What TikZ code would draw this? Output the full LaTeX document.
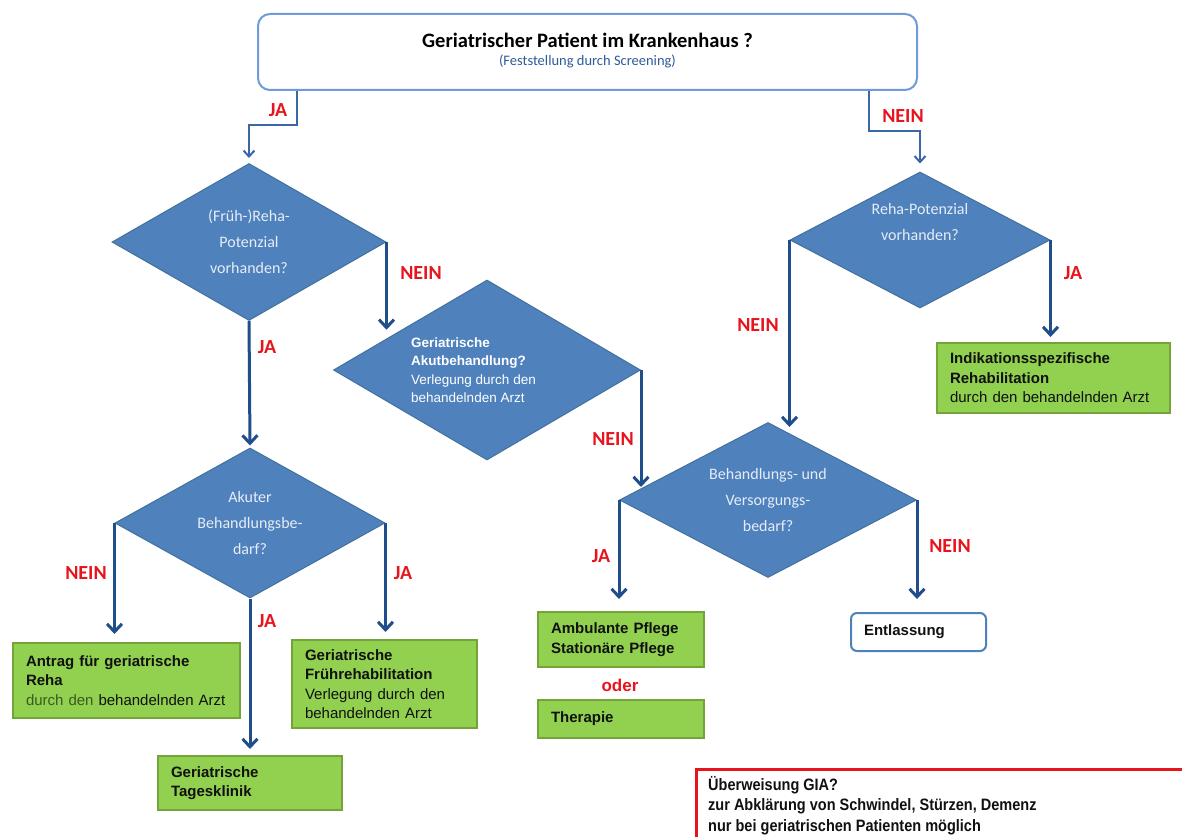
\documentclass[tikz,border=0pt]{standalone}
\usepackage{fontspec}
\setmainfont{Carlito}
\newfontfamily\arial{Liberation Sans}
\newfontfamily\narrow[FakeStretch=0.88]{Liberation Sans}
\usetikzlibrary{shapes.geometric,arrows.meta,calc}
\definecolor{topborder}{HTML}{6F9BD8}
\definecolor{subtext}{HTML}{2E5C9A}
\definecolor{diafill}{HTML}{4F81BD}
\definecolor{diaborder}{HTML}{41719C}
\definecolor{diatext}{HTML}{E6EDF7}
\definecolor{arrblue}{HTML}{1F4E8A}
\definecolor{thinblue}{HTML}{3A67A8}
\definecolor{lblred}{HTML}{E8141C}
\definecolor{gfill}{HTML}{92D050}
\definecolor{gborder}{HTML}{74A33A}
\definecolor{durchgreen}{HTML}{3B5A22}
\definecolor{boxtext}{HTML}{111111}
\tikzset{
  dia/.style={diamond, draw=diaborder, fill=diafill, line width=1pt, inner sep=0pt, aspect=1.7,
    text=diatext, align=center, font=\fontsize{16}{26}\selectfont},
  arr/.style={draw=arrblue, line width=3pt, -{Straight Barb[length=8pt,width=15pt]}},
  thinarr/.style={draw=thinblue, line width=2pt, -{Straight Barb[length=6pt,width=11pt]}},
  lab/.style={text=lblred, font=\bfseries\fontsize{20}{20}\selectfont, inner sep=0pt},
  gbox/.style={rectangle, fill=gfill, draw=gborder, line width=2pt, inner xsep=13pt, inner ysep=0pt,
    align=left, text=boxtext, font=\arial\fontsize{15}{19.5}\selectfont},
}
\begin{document}
\begin{tikzpicture}[x=1pt,y=-1pt]
\useasboundingbox (0,0) rectangle (1182,837);
\fill[white] (0,0) rectangle (1182,837);

% top box
\node[rectangle, rounded corners=12pt, draw=topborder, line width=2pt, fill=white,
      minimum width=659pt, minimum height=76pt, inner sep=0pt] (top) at (587.5,52) {};
\node[align=center, inner sep=0pt, font=\fontsize{20.5}{18}\selectfont] (toptext) at (587.5,51)
  {{\bfseries Geriatrischer Patient im Krankenhaus ?}\\
   {\color{subtext}\fontsize{14.5}{18}\selectfont (Feststellung durch Screening)}};

% diamonds
\node[dia, minimum width=274pt, minimum height=157pt] (d1) at (249,242)
  {(Früh-)Reha-\\Potenzial\\vorhanden?};
\node[dia, minimum width=307pt, minimum height=180pt] (d2) at (487,370) {};
\node[text=white, align=left, font=\arial\fontsize{13.5}{18.5}\selectfont, inner sep=0pt, anchor=west] (d2t) at (411,370)
  {{\bfseries Geriatrische}\\{\bfseries Akutbehandlung?}\\Verlegung durch den\\behandelnden Arzt};
\node[dia, minimum width=270pt, minimum height=150pt] (d3) at (250,523)
  {Akuter\\Behandlungsbe-\\darf?};
\node[dia, minimum width=260pt, minimum height=136pt] (d4) at (920,240)
  {Reha-Potenzial\\vorhanden?\\[10pt]};
\node[dia, minimum width=297pt, minimum height=155pt] (d5) at (768,500)
  {Behandlungs- und\\Versorgungs-\\bedarf?};

% green boxes
\node[gbox, text width=201pt, minimum height=75pt] (antrag) at (126.5,680.5)
  {{\bfseries Antrag für geriatrische}\\{\bfseries Reha}\\{\color{durchgreen}durch den} behandelnden Arzt};
\node[gbox, text width=159pt, minimum height=88pt] (fruh) at (384.5,684)
  {{\bfseries Geriatrische}\\{\bfseries Frührehabilitation}\\Verlegung durch den\\behandelnden Arzt};
\node[gbox, text width=158pt, minimum height=54pt] (tages) at (250,783)
  {{\bfseries Geriatrische}\\{\bfseries Tagesklinik}};
\node[gbox, text width=207pt, minimum height=70pt] (indik) at (1053.5,378)
  {{\bfseries Indikationsspezifische}\\{\bfseries Rehabilitation}\\durch den behandelnden Arzt};
\node[gbox, text width=140pt, minimum height=55pt] (amb) at (621,639.5)
  {{\bfseries Ambulante Pflege}\\{\bfseries Stationäre Pflege}};
\node[text=lblred, font=\arial\bfseries\fontsize{17}{18}\selectfont, inner sep=0pt] (oder) at (620,685) {oder};
\node[gbox, text width=140pt, minimum height=38pt] (ther) at (621,719)
  {{\bfseries Therapie}};
\node[rectangle, rounded corners=6pt, draw=diafill, line width=2pt, fill=white, inner xsep=13pt,
      text width=109pt, minimum height=38pt, align=left, text=boxtext,
      font=\arial\bfseries\fontsize{15}{18}\selectfont] (entl) at (918.5,632) {Entlassung};

% GIA box
\node[rectangle, draw=lblred, line width=2.5pt, minimum width=520pt, minimum height=110pt,
      anchor=north west, inner sep=0pt] (gia) at (695,768) {};
\node[anchor=north west, align=left, inner sep=0pt, text=boxtext,
      font=\narrow\bfseries\fontsize{16.5}{20.5}\selectfont] (giat) at ($(gia.north west)+(13,8)$)
  {Überweisung GIA?\\zur Abklärung von Schwindel, Stürzen, Demenz\\nur bei geriatrischen Patienten möglich};

% connectors from top box
\coordinate (jastart) at ($(top.south west)+(40,0)$);
\coordinate (neinstart) at ($(top.south east)+(-49,0)$);
\draw[thinarr] (jastart) |- ($(d1.north)+(0,-38)$) -- ($(d1.north)+(0,-5)$);
\draw[thinarr] (neinstart) |- ($(d4.north)+(0,-40)$) -- ($(d4.north)+(0,-8)$);

% main connectors
\draw[arr] (d1.east) -- ($(d1.east |- d2.north west)+(0,5)$);
\draw[arr] (d1.south) -- ($(d3.north)+(0,-2)$);
\draw[arr] (d2.east) -- ($(d2.east |- d5.west)+(0,-13)$);
\draw[arr] (d3.west) -- ($(d3.west |- antrag.north)+(0,-8)$);
\draw[arr] (d3.east) -- ($(d3.east |- fruh.north)+(0,-7)$);
\draw[arr] (d3.south) -- ($(tages.north)+(0,-6)$);
\draw[arr] (d4.west) -- ($(d4.west |- d5.north)+(0,5)$);
\draw[arr] (d4.east) -- ($(d4.east |- indik.north)+(0,-5)$);
\draw[arr] (d5.west) -- ($(d5.west |- amb.north)+(0,-12)$);
\draw[arr] (d5.east) -- ($(d5.east |- entl.north)+(0,-13)$);

% labels
\node[lab] (l1) at (278,110) {JA};
\node[lab] (l2) at (903,116) {NEIN};
\node[lab] (l3) at (421,273) {NEIN};
\node[lab] (l4) at (267,347) {JA};
\node[lab] (l5) at (613,439) {NEIN};
\node[lab] (l6) at (86,573) {NEIN};
\node[lab] (l7) at (403,573) {JA};
\node[lab] (l8) at (267,621) {JA};
\node[lab] (l9) at (758,325) {NEIN};
\node[lab] (l10) at (1073,273) {JA};
\node[lab] (l11) at (601,556) {JA};
\node[lab] (l12) at (950,546) {NEIN};
\end{tikzpicture}
\end{document}
